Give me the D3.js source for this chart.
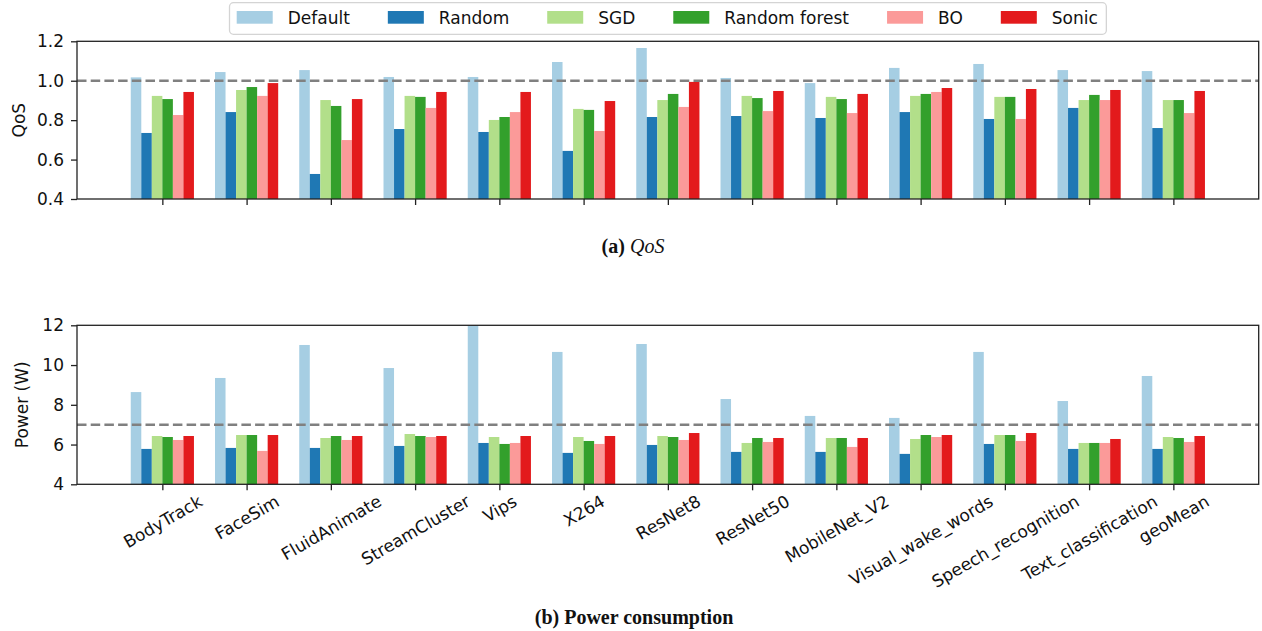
<!DOCTYPE html>
<html>
<head>
<meta charset="utf-8">
<script src="https://cdn.jsdelivr.net/npm/d3@7"></script>
<style>
  html, body { margin: 0; padding: 0; background: #fff; }
  svg { display: block; }
  text { font-family: "DejaVu Sans", sans-serif; fill: #111; }
</style>
</head>
<body>
<svg id="chart" width="1262" height="631"></svg>
<script>
// Benchmarks on the x axis
const categories = ["BodyTrack", "FaceSim", "FluidAnimate", "StreamCluster", "Vips", "X264",
  "ResNet8", "ResNet50", "MobileNet_V2", "Visual_wake_words", "Speech_recognition",
  "Text_classification", "geoMean"];

// Tuning methods (legend order)
const methods = ["Default", "Random", "SGD", "Random forest", "BO", "Sonic"];
const methodColors = ["#a6cee3", "#1f78b4", "#b2df8a", "#33a02c", "#fb9a99", "#e31a1c"];

// (a) QoS per method
const qosDefault      = [1.017, 1.044, 1.054, 1.019, 1.019, 1.095, 1.166, 1.014, 0.988, 1.065, 1.085, 1.054, 1.049];
const qosRandom       = [0.735, 0.841, 0.527, 0.755, 0.740, 0.644, 0.816, 0.821, 0.811, 0.841, 0.806, 0.862, 0.760];
const qosSGD          = [0.923, 0.953, 0.902, 0.923, 0.801, 0.857, 0.902, 0.923, 0.918, 0.923, 0.918, 0.902, 0.902];
const qosRandomForest = [0.907, 0.968, 0.872, 0.918, 0.816, 0.852, 0.933, 0.912, 0.907, 0.933, 0.918, 0.928, 0.902];
const qosBO           = [0.826, 0.923, 0.699, 0.862, 0.841, 0.745, 0.867, 0.846, 0.836, 0.943, 0.806, 0.902, 0.836];
const qosSonic        = [0.943, 0.988, 0.907, 0.943, 0.943, 0.897, 0.994, 0.948, 0.933, 0.963, 0.958, 0.953, 0.948];

// (b) Power consumption (W) per method
const powerDefault      = [8.64, 9.35, 11.01, 9.85, 12.0, 10.66, 11.06, 8.29, 7.44, 7.34, 10.66, 8.19, 9.45];
const powerRandom       = [5.78, 5.83, 5.83, 5.93, 6.08, 5.58, 5.98, 5.63, 5.63, 5.53, 6.03, 5.78, 5.78];
const powerSGD          = [6.43, 6.48, 6.33, 6.53, 6.38, 6.38, 6.43, 6.08, 6.33, 6.28, 6.48, 6.08, 6.38];
const powerRandomForest = [6.38, 6.48, 6.43, 6.43, 6.03, 6.18, 6.38, 6.33, 6.33, 6.48, 6.48, 6.08, 6.33];
const powerBO           = [6.23, 5.68, 6.23, 6.38, 6.08, 6.03, 6.23, 6.13, 5.88, 6.38, 6.18, 6.08, 6.13];
const powerSonic        = [6.43, 6.48, 6.43, 6.43, 6.43, 6.43, 6.58, 6.33, 6.33, 6.48, 6.58, 6.28, 6.43];

// Axis ticks and reference lines
const qosTicks = [0.4, 0.6, 0.8, 1.0, 1.2];
const powerTicks = [4, 6, 8, 10, 12];
const qosReference = 1.0;
const powerReference = 7;

const qosSeries = [qosDefault, qosRandom, qosSGD, qosRandomForest, qosBO, qosSonic];
const powerSeries = [powerDefault, powerRandom, powerSGD, powerRandomForest, powerBO, powerSonic];

const svg = d3.select("#chart");
const FONT = 17;
const left = 77, right = 1258.7;

const x = d3.scalePoint().domain(categories).range([left, right]).padding(1.013);
const step = x.step();
const barW = step * 0.125;
const inner = d3.scaleBand().domain(methods)
  .range([-barW * methods.length / 2, barW * methods.length / 2]).padding(0);

function panel(cfg) {
  const y = d3.scaleLinear().domain(cfg.domain).range([cfg.bottom, cfg.top]);
  const g = svg.append("g");
  const clipId = "clip-" + cfg.id;
  svg.append("clipPath").attr("id", clipId).append("rect")
    .attr("x", left).attr("y", cfg.top).attr("width", right - left).attr("height", cfg.bottom - cfg.top);

  // bars
  const bars = g.append("g").attr("clip-path", `url(#${clipId})`);
  cfg.series.forEach((vals, si) => {
    bars.append("g").selectAll("rect")
      .data(vals.map((v, i) => ({ c: categories[i], v })))
      .join("rect")
      .attr("x", d => x(d.c) + inner(methods[si]))
      .attr("width", inner.bandwidth())
      .attr("y", d => y(d.v))
      .attr("height", d => y(cfg.domain[0]) - y(d.v))
      .attr("fill", methodColors[si]);
  });

  // reference line
  g.append("line")
    .attr("x1", left).attr("x2", right)
    .attr("y1", y(cfg.ref)).attr("y2", y(cfg.ref))
    .attr("stroke", "#808080").attr("stroke-width", 2.6)
    .attr("stroke-dasharray", "9.5,4.2");

  // y axis
  const yAxis = g.append("g").attr("transform", `translate(${left},0)`)
    .call(d3.axisLeft(y).tickValues(cfg.ticks).tickFormat(cfg.fmt).tickSize(6).tickPadding(7));
  yAxis.select(".domain").remove();
  yAxis.selectAll(".tick line").attr("stroke", "#222").attr("stroke-width", 1.3);
  yAxis.selectAll(".tick text").attr("font-size", FONT).attr("font-family", "DejaVu Sans").attr("fill", "#111");

  // x axis ticks
  const xAxis = g.append("g").attr("transform", `translate(0,${cfg.bottom})`)
    .call(d3.axisBottom(x).tickSize(6).tickFormat(cfg.xLabels ? d => d : () => ""));
  xAxis.select(".domain").remove();
  xAxis.selectAll(".tick line").attr("stroke", "#222").attr("stroke-width", 1.3);
  if (cfg.xLabels) {
    xAxis.selectAll(".tick text").each(function () {
      const t = d3.select(this);
      t.attr("font-size", FONT).attr("font-family", "DejaVu Sans").attr("fill", "#111")
        .attr("dy", null).attr("y", null);
      const w = this.getComputedTextLength();
      const h = FONT * 1.0;
      const a = Math.PI / 6;
      const bh = w * Math.sin(a) + h * Math.cos(a);
      t.attr("text-anchor", "middle").attr("dominant-baseline", "central")
        .attr("transform", `translate(0,${8 + bh / 2}) rotate(-30)`);
    });
  } else {
    xAxis.selectAll(".tick text").remove();
  }

  // frame
  g.append("rect")
    .attr("x", left).attr("y", cfg.top).attr("width", right - left).attr("height", cfg.bottom - cfg.top)
    .attr("fill", "none").attr("stroke", "#222").attr("stroke-width", 1.3);

  // y label
  g.append("text")
    .attr("transform", `translate(${cfg.labelX},${(cfg.top + cfg.bottom) / 2}) rotate(-90)`)
    .attr("text-anchor", "middle").attr("dominant-baseline", "central")
    .attr("font-size", FONT).text(cfg.yLabel);
}

panel({
  id: "qos", top: 41.3, bottom: 199, domain: [0.4, 1.2], ticks: qosTicks,
  fmt: d3.format(".1f"), ref: qosReference, series: qosSeries, yLabel: "QoS", labelX: 19, xLabels: false
});
panel({
  id: "power", top: 325.3, bottom: 484.3, domain: [4, 12], ticks: powerTicks,
  fmt: d3.format("d"), ref: powerReference, series: powerSeries, yLabel: "Power (W)", labelX: 22, xLabels: true
});

// captions
const capA = svg.append("text").attr("x", 633).attr("y", 253).attr("text-anchor", "middle")
  .style("font-family", "Liberation Serif, serif").attr("font-size", 20);
capA.append("tspan").attr("font-weight", "bold").text("(a) ");
capA.append("tspan").attr("font-style", "italic").text("QoS");

svg.append("text").attr("x", 634).attr("y", 624).attr("text-anchor", "middle")
  .style("font-family", "Liberation Serif, serif").attr("font-size", 20).attr("font-weight", "bold")
  .text("(b) Power consumption");

// legend
const legend = svg.append("g");
const box = legend.append("rect")
  .attr("x", 229.5).attr("y", 2.7).attr("height", 31.6).attr("rx", 4)
  .attr("fill", "#fff").attr("fill-opacity", 0.8)
  .attr("stroke", "#d4d4d4").attr("stroke-width", 1.3);
let cx = 236.7;
methods.forEach((m, i) => {
  legend.append("rect").attr("x", cx).attr("y", 11).attr("width", 36).attr("height", 12.7)
    .attr("fill", methodColors[i]);
  const t = legend.append("text").attr("x", cx + 36 + 15).attr("y", 17.5)
    .attr("dominant-baseline", "central").attr("font-size", FONT).text(m);
  const w = t.node().getComputedTextLength();
  cx = cx + 36 + 15 + w + (i < methods.length - 1 ? 38 : 0);
});
box.attr("width", cx + 8.5 - 229.5);
</script>
</body>
</html>
